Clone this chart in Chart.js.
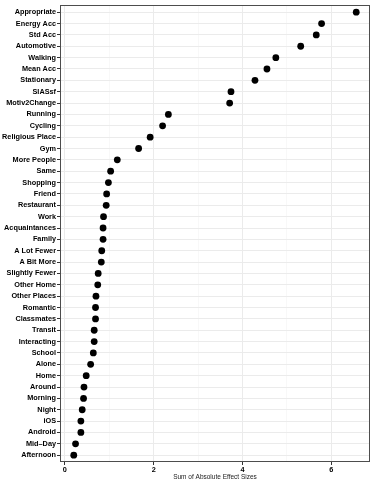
<!DOCTYPE html>
<html>
<head>
<meta charset="utf-8">
<script src="https://cdn.jsdelivr.net/npm/chart.js@4.4.1/dist/chart.umd.min.js"></script>
<style>
html,body{margin:0;padding:0;background:#fff;}
#wrap{width:374px;height:484px;}
</style>
</head>
<body>
<div id="wrap"><canvas id="c" width="374" height="484"></canvas></div>
<script>
const categories = ["Appropriate","Energy Acc","Std Acc","Automotive","Walking","Mean Acc","Stationary","SIASsf","Motiv2Change","Running","Cycling","Religious Place","Gym","More People","Same","Shopping","Friend","Restaurant","Work","Acquaintances","Family","A Lot Fewer","A Bit More","Slightly Fewer","Other Home","Other Places","Romantic","Classmates","Transit","Interacting","School","Alone","Home","Around","Morning","Night","iOS","Android","Mid\u2013Day","Afternoon"];
const effectSums = [6.56,5.78,5.66,5.31,4.75,4.55,4.28,3.74,3.71,2.33,2.20,1.92,1.66,1.18,1.03,0.98,0.94,0.93,0.87,0.86,0.86,0.83,0.82,0.75,0.74,0.70,0.69,0.69,0.66,0.66,0.64,0.58,0.48,0.43,0.42,0.39,0.36,0.36,0.24,0.20];
const xTicks = [0,1,2,3,4,5,6];
const xTitle = "Sum of Absolute Effect Sizes";

const points = categories.map((c,i)=>({x: effectSums[i], y: i}));

const borderPlugin = {
  id:'panelBorder',
  afterDraw(chart){
    const a = chart.chartArea, ctx = chart.ctx;
    ctx.save();
    ctx.strokeStyle = '#4d4d4d';
    ctx.lineWidth = 1;
    ctx.strokeRect(Math.round(a.left)+0.5, Math.round(a.top)+0.5, Math.round(a.right-a.left)-1+0.0, Math.round(a.bottom-a.top)-1);
    ctx.restore();
  }
};

new Chart(document.getElementById('c'), {
  type: 'scatter',
  data: { datasets: [{ data: points, backgroundColor:'#000', borderColor:'#000', pointRadius:3.4, pointHoverRadius:3.4, borderWidth:0 }] },
  options: {
    responsive:false, animation:false,
    layout:{ padding:{ top:2, right:4, left:0, bottom:0 } },
    plugins:{ legend:{display:false}, tooltip:{enabled:false} },
    scales:{
      x:{
        type:'linear', min:-0.11, max:6.87,
        afterBuildTicks(s){ s.ticks = xTicks.map(v=>({value:v})); },
        afterFit(s){ s.height = 22; },
        grid:{
          color: ctx => (ctx.tick && ctx.tick.value % 2) ? '#f3f3f3' : '#ebebeb',
          lineWidth: ctx => (ctx.tick && ctx.tick.value % 2) ? 0.6 : 1,
          tickColor: ctx => (ctx.tick && ctx.tick.value % 2) ? 'rgba(0,0,0,0)' : '#333',
          tickLength:3, drawTicks:true
        },
        border:{ display:false },
        ticks:{ autoSkip:false, maxRotation:0, padding:1, color:'#000',
          font:{ family:'Liberation Sans, Arial, sans-serif', size:7.3, weight:'bold' },
          callback: v => (v % 2 === 0 ? String(v) : '') },
        title:{ display:true, text:xTitle, color:'#222', padding:{top:0,bottom:3},
          font:{ family:'Liberation Sans, Arial, sans-serif', size:6.5 } }
      },
      y:{
        type:'linear', reverse:true, min:-0.6, max:39.6,
        afterBuildTicks(s){ s.ticks = categories.map((c,i)=>({value:i})); },
        afterFit(s){ s.width = 60; },
        grid:{ color:'#ebebeb', lineWidth:1, tickColor:'#333', tickLength:3 },
        border:{ display:false },
        ticks:{ autoSkip:false, padding:1, color:'#000',
          font:{ family:'Liberation Sans, Arial, sans-serif', size:7.3, weight:'bold' },
          callback: v => categories[v] }
      }
    }
  },
  plugins:[borderPlugin]
});
</script>
</body>
</html>
